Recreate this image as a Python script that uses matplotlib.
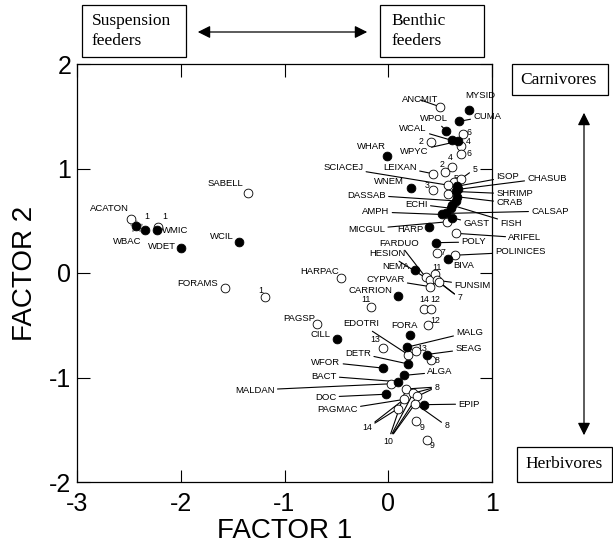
import matplotlib
matplotlib.use("Agg")
import matplotlib.pyplot as plt
from matplotlib.patches import Rectangle, FancyArrowPatch

plt.rcParams['font.family'] = ['Liberation Sans', 'DejaVu Sans']
plt.rcParams['axes.unicode_minus'] = False

# ---- data: factor scores (filled = 1, open = 0) ----
pt_id = ['MYSID', 'CUMA', 'WPOL', 'WCAL', 'WPYC', 'WHAR', 'WNEM', 'ISOP', 'CHASUB',
         'SHRIMP', 'CRAB', 'DASSAB', 'FISH', 'CALSAP', 'ECHI', 'AMPH', 'GAST', 'HARP',
         'POLY', 'BIVA', 'NEMA', 'CARRION', 'CILL', 'FORA', 'MALG', 'SEAG', 'DETR',
         'WFOR', 'ALGA', 'BACT', 'DOC', 'EPIP', 'WSTAR', 'WBAC', 'WMIC', 'WDET', 'WCIL',
         'ANCMIT', 'o6a', 'o2a', 'o4a', 'o6b', 'o4b', 'o2b', 'LEIXAN', 'o5a', 'o5b',
         'SCIACEJ', 'o3a', 'o3b', 'MICGUL', 'ARIFEL', 'o7a', 'POLINICES', 'HARPAC',
         'FARDUO', 'HESION', 'o11a', 'FUNSIM', 'o7b', 'CYPVAR', 'o11b', 'o14a', 'o12a',
         'o1a', 'FORAMS', 'SABELL', 'ACATON', 'o1b', 'PAGSP', 'o12b', 'o13a', 'o13b',
         'EDOTRI', 'o8a', 'MALDAN', 'c1', 'c2', 'c3', 'c4', 'c5', 'c6', 'o9a', 'o9b']
f1 = [0.78, 0.68, 0.56, 0.61, 0.67, -0.01, 0.22, 0.66, 0.67,
      0.65, 0.66, 0.65, 0.61, 0.56, 0.60, 0.52, 0.61, 0.39,
      0.46, 0.58, 0.26, 0.09, -0.49, 0.21, 0.18, 0.37, 0.19,
      -0.05, 0.15, 0.09, -0.02, 0.34, -2.43, -2.34, -2.23, -2.00, -1.44,
      0.50, 0.72, 0.41, 0.70, 0.70, 0.61, 0.55, 0.43, 0.63, 0.70,
      0.58, 0.43, 0.58, 0.57, 0.65, 0.47, 0.64, -0.46,
      0.36, 0.40, 0.45, 0.47, 0.49, 0.40, -0.17, 0.34, 0.41,
      -1.19, -1.57, -1.35, -2.48, -2.215, -0.69, 0.38, -0.05, 0.27,
      0.19, 0.41, 0.03, 0.17, 0.24, 0.28, 0.15, 0.26, 0.09, 0.27, 0.37]
f2 = [1.56, 1.45, 1.36, 1.27, 1.26, 1.12, 0.81, 0.83, 0.80,
      0.78, 0.73, 0.69, 0.65, 0.57, 0.62, 0.56, 0.53, 0.44,
      0.29, 0.13, 0.03, -0.22, -0.63, -0.59, -0.71, -0.78, -0.87,
      -0.91, -0.98, -1.04, -1.16, -1.26, 0.45, 0.41, 0.41, 0.24, 0.30,
      1.59, 1.33, 1.25, 1.22, 1.14, 1.01, 0.97, 0.95, 0.87, 0.90,
      0.84, 0.79, 0.76, 0.49, 0.38, 0.19, 0.17, -0.05,
      -0.04, -0.07, -0.01, -0.07, -0.09, -0.13, -0.33, -0.34, -0.34,
      -0.23, -0.14, 0.77, 0.52, 0.44, -0.49, -0.50, -0.72, -0.75,
      -0.78, -0.83, -1.06, -1.11, -1.15, -1.18, -1.21, -1.25, -1.30, -1.42, -1.60]
filled = [1] * 37 + [0] * 47

# ---- labels: text, target point, text x, text y, leader line ----
labels = [
    ('ANCMIT', 'ANCMIT', 0.135, 1.656, True), ('MYSID', 'MYSID', 0.742, 1.703, False),
    ('CUMA', 'CUMA', 0.819, 1.502, True), ('WPOL', 'WPOL', 0.308, 1.474, True),
    ('WCAL', 'WCAL', 0.106, 1.378, True), ('WPYC', 'WPYC', 0.116, 1.167, True),
    ('WHAR', 'WHAR', -0.299, 1.215, False), ('LEIXAN', 'LEIXAN', -0.048, 1.014, True),
    ('SCIACEJ', 'SCIACEJ', -0.627, 1.005, True), ('WNEM', 'WNEM', -0.135, 0.871, False),
    ('DASSAB', 'DASSAB', -0.395, 0.746, True), ('ECHI', 'ECHI', 0.164, 0.660, True),
    ('AMPH', 'AMPH', -0.251, 0.584, True), ('MICGUL', 'MICGUL', -0.386, 0.421, True),
    ('HARP', 'HARP', 0.087, 0.421, False), ('GAST', 'GAST', 0.723, 0.469, True),
    ('POLY', 'POLY', 0.704, 0.297, True), ('FARDUO', 'FARDUO', -0.087, 0.287, True),
    ('HESION', 'HESION', -0.183, 0.182, True), ('BIVA', 'BIVA', 0.627, 0.067, False),
    ('NEMA', 'NEMA', -0.058, 0.060, False), ('HARPAC', 'HARPAC', -0.848, 0.019, False),
    ('CYPVAR', 'CYPVAR', -0.212, -0.062, True), ('FUNSIM', 'FUNSIM', 0.636, -0.115, True),
    ('CARRION', 'CARRION', -0.386, -0.163, False), ('FORAMS', 'FORAMS', -2.034, -0.096, False),
    ('SABELL', 'SABELL', -1.745, 0.861, False), ('ACATON', 'ACATON', -2.872, 0.622, False),
    ('WMIC', 'WMIC', -2.178, 0.402, False), ('WBAC', 'WBAC', -2.651, 0.306, False),
    ('WDET', 'WDET', -2.313, 0.258, False), ('WCIL', 'WCIL', -1.716, 0.354, False),
    ('PAGSP', 'PAGSP', -1.012, -0.431, False), ('CILL', 'CILL', -0.752, -0.584, False),
    ('EDOTRI', 'EDOTRI', -0.434, -0.488, True), ('FORA', 'FORA', 0.029, -0.507, False),
    ('MALG', 'MALG', 0.655, -0.565, True), ('SEAG', 'SEAG', 0.646, -0.727, True),
    ('DETR', 'DETR', -0.414, -0.766, True), ('WFOR', 'WFOR', -0.742, -0.852, True),
    ('ALGA', 'ALGA', 0.376, -0.947, True), ('BACT', 'BACT', -0.742, -0.986, True),
    ('MALDAN', 'MALDAN', -1.475, -1.120, True), ('DOC', 'DOC', -0.704, -1.187, True),
    ('PAGMAC', 'c4', -0.684, -1.311, True), ('EPIP', 'EPIP', 0.675, -1.254, True),
    ('ISOP', 'ISOP', 1.041, 0.919, True), ('CHASUB', 'CHASUB', 1.340, 0.909, True),
    ('SHRIMP', 'SHRIMP', 1.041, 0.756, True), ('CRAB', 'CRAB', 1.041, 0.670, True),
    ('CALSAP', 'CALSAP', 1.378, 0.593, True), ('FISH', 'FISH', 1.080, 0.478, True),
    ('ARIFEL', 'ARIFEL', 1.157, 0.335, True), ('POLINICES', 'POLINICES', 1.031, 0.201, True),
]
num_labels = [
    ('6', 'o6a', 0.752, 1.349, False), ('2', 'o2a', 0.289, 1.254, False),
    ('4', 'o4a', 0.752, 1.254, False), ('6', 'o6b', 0.752, 1.139, False),
    ('4', 'o4b', 0.578, 1.110, False), ('2', 'o2b', 0.492, 1.043, False),
    ('5', 'o5a', 0.627, 0.909, False), ('5', 'o5b', 0.810, 0.995, True),
    ('3', 'o3a', 0.347, 0.833, False), ('3', 'o3b', 0.559, 0.756, False),
    ('7', 'o7a', 0.500, 0.200, False), ('11', 'o11a', 0.424, 0.048, False),
    ('7', 'o7b', 0.665, -0.239, True), ('7', 'FUNSIM', 0.665, -0.239, True),
    ('11', 'o11b', -0.260, -0.258, False), ('14', 'o14a', 0.299, -0.249, False),
    ('12', 'o12a', 0.405, -0.249, False), ('1', 'o1a', -1.253, -0.163, False),
    ('1', 'WSTAR', -2.352, 0.536, False), ('1', 'o1b', -2.178, 0.536, False),
    ('12', 'o12b', 0.405, -0.450, False), ('13', 'o13a', -0.173, -0.641, False),
    ('13', 'o13b', 0.280, -0.718, False), ('8', 'o8a', 0.443, -0.842, False),
    ('8', 'c1', 0.443, -1.091, True), ('8', 'c2', 0.443, -1.091, True),
    ('8', 'c3', 0.443, -1.091, True), ('8', 'c5', 0.540, -1.464, True),
    ('14', 'c6', -0.251, -1.483, True), ('14', 'c4', -0.251, -1.483, True),
    ('10', 'c1', -0.048, -1.608, True), ('10', 'c2', -0.048, -1.608, True),
    ('10', 'c3', -0.048, -1.608, True), ('10', 'c5', -0.048, -1.608, True),
    ('9', 'o9a', 0.299, -1.483, False), ('9', 'o9b', 0.395, -1.646, False),
]

pos = {n: (x, y) for n, x, y in zip(pt_id, f1, f2)}

fig = plt.figure(figsize=(6.13, 5.52), dpi=100)
W, H = 613.0, 552.0
ax = fig.add_axes([77 / W, 1 - 482 / H, 415 / W, 418 / H])

# leader lines / labels first so points sit on top
seen = set()
for group, fs in ((labels, 6.8), (num_labels, 6.3)):
    for txt, target, tx, ty, lead in group:
        px, py = pos[target]
        key = (txt, tx, ty)
        col = 'none' if key in seen else 'black'   # one visible text per spot
        seen.add(key)
        if lead:
            ax.annotate(txt, xy=(px, py), xytext=(tx, ty), fontsize=fs, color=col,
                        ha='left', va='center', annotation_clip=False,
                        arrowprops=dict(arrowstyle='-', lw=0.8, color='black',
                                        shrinkA=0, shrinkB=2))
        else:
            ax.text(tx, ty, txt, fontsize=fs, ha='left', va='center', color=col,
                    clip_on=False)

for x, y, f in zip(f1, f2, filled):
    if f:
        ax.plot(x, y, 'o', ms=6.3, mfc='black', mec='black', mew=0.6, zorder=5)
    else:
        ax.plot(x, y, 'o', ms=6.3, mfc='white', mec='black', mew=0.6, zorder=4)
ax.plot(pos['WSTAR'][0], pos['WSTAR'][1], '*', ms=9, color='0.55', zorder=4.5)

ax.set_xlim(-3, 1)
ax.set_ylim(-2, 2)
ax.set_xticks([-3, -2, -1, 0, 1])
ax.set_yticks([-2, -1, 0, 1, 2])
ax.tick_params(direction='in', length=9, width=0.8, top=True, right=True,
               labelsize=18)
ax.tick_params(axis='x', pad=7)
ax.tick_params(axis='y', pad=4)
for s in ax.spines.values():
    s.set_linewidth(0.9)
ax.set_xlabel('FACTOR 1', fontsize=20, labelpad=2)
ax.set_ylabel('FACTOR 2', fontsize=20, labelpad=8)


def box(x0, y0, x1, y1, text, tx):
    fig.add_artist(Rectangle((x0 / W, 1 - y1 / H), (x1 - x0) / W, (y1 - y0) / H,
                             transform=fig.transFigure, fill=False, lw=0.9,
                             edgecolor='black'))
    fig.text(tx / W, 1 - (y0 + y1) / 2 / H, text, fontsize=12.5,
             family='Liberation Serif', ha='left', va='center', linespacing=1.35)


box(82, 5, 186, 57, 'Suspension\nfeeders', 92)
box(380, 5, 484, 57, 'Benthic\nfeeders', 391)
box(512, 64, 608, 95, 'Carnivores', 520)
box(517, 447, 612, 482, 'Herbivores', 525)

for a, b in (((195, 32), (370, 32)), ((584, 110), (584, 438))):
    fig.add_artist(FancyArrowPatch((a[0] / W, 1 - a[1] / H), (b[0] / W, 1 - b[1] / H),
                                   transform=fig.transFigure,
                                   arrowstyle='<|-|>,head_length=5,head_width=2.5',
                                   lw=0.9, color='black', mutation_scale=1.5))

fig.savefig('out.png', dpi=100)
